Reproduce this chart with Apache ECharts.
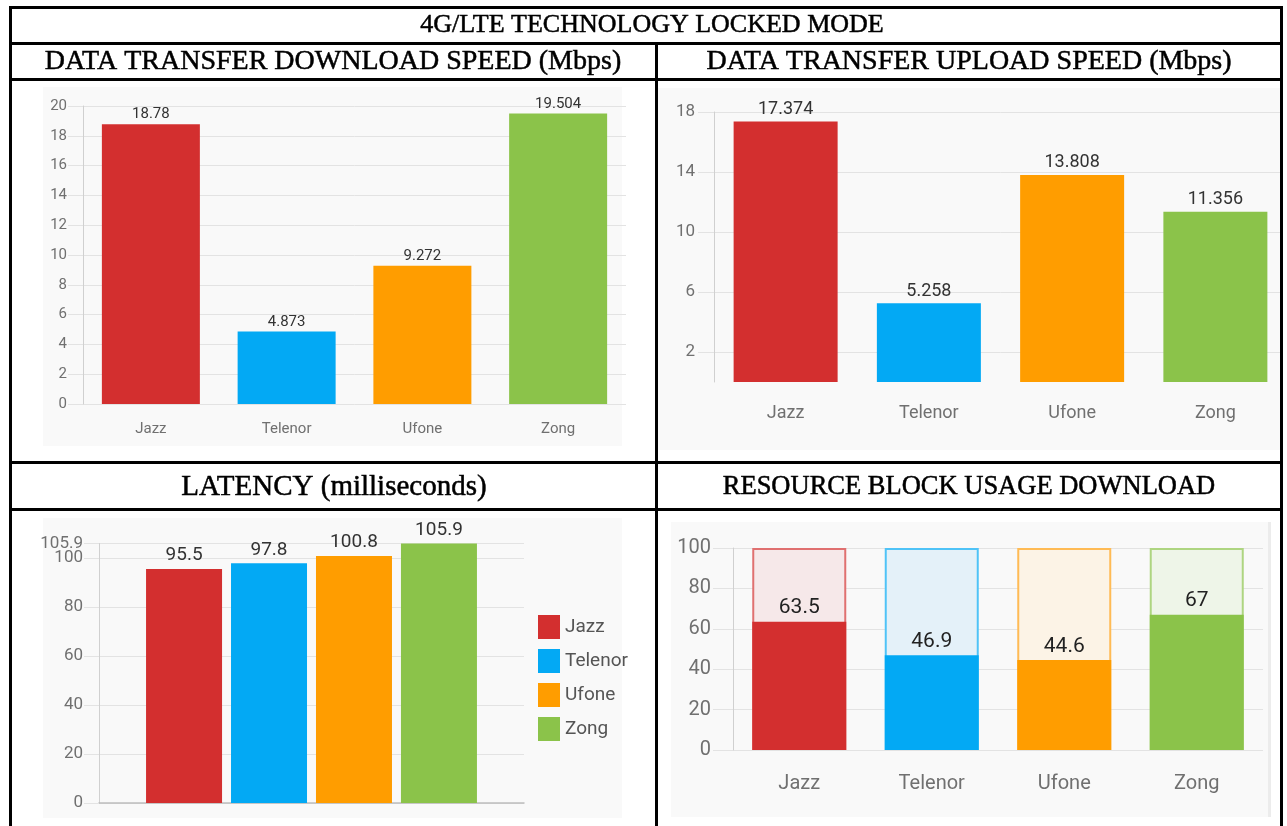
<!DOCTYPE html>
<html>
<head>
<meta charset="utf-8">
<script src="https://cdn.jsdelivr.net/npm/echarts@6/dist/echarts.min.js"></script>
<style>
html,body{margin:0;padding:0;background:#fff;}
#chart{width:1287px;height:826px;}
</style>
</head>
<body>
<div id="chart"></div>
<script>
// ---- data ----
const categories = ['Jazz', 'Telenor', 'Ufone', 'Zong'];
const downloadSpeed = [18.78, 4.873, 9.272, 19.504];
const uploadSpeed = [17.374, 5.258, 13.808, 11.356];
const latency = [95.5, 97.8, 100.8, 105.9];
const resourceBlock = [63.5, 46.9, 44.6, 67];
const resourceCapacity = [100, 100, 100, 100];
const uploadTicks = [2, 6, 10, 14, 18];
const latencyTicks = [0, 20, 40, 60, 80, 100];
const latencyMaxTick = [105.9];
const mainTitle = '4G/LTE TECHNOLOGY LOCKED MODE';
const panelTitles = ['DATA TRANSFER DOWNLOAD SPEED (Mbps)', 'DATA TRANSFER UPLOAD SPEED (Mbps)', 'LATENCY (milliseconds)', 'RESOURCE BLOCK USAGE DOWNLOAD'];

// ---- styles ----
const solid = ['#d32f2f', '#03a9f4', '#ff9d00', '#8bc34a'];
const lightFill = ['#f6e8e9', '#e4f1f9', '#fcf3e6', '#eef5e8'];
const lightBorder = ['#e07070', '#4fc3f7', '#ffbb55', '#aed581'];
const FONT = 'Roboto';
const GRID = '#e3e3e3';
const AXIS = '#d0d0d0';
const LABEL = '#707070';

const chart = echarts.init(document.getElementById('chart'), null, {renderer: 'canvas'});

function colored(values) {
  return values.map((v, i) => ({value: v, itemStyle: {color: solid[i]}}));
}

const rect = (x, y, w, h, fill, z) => ({type: 'rect', shape: {x, y, width: w, height: h}, style: {fill}, z, silent: true});
const text = (t, x, y, size) => ({type: 'text', z: 50, silent: true,
  style: {text: t, x, y, fill: '#000', stroke: '#000', lineWidth: 0.5, fontSize: size,
          fontFamily: '"Liberation Serif", "DejaVu Serif", serif', align: 'center', verticalAlign: 'middle'}});

const graphics = [
  // panel backgrounds
  rect(43, 87, 579, 359, '#f9f9f9', -10),
  rect(658, 88, 625, 362, '#f9f9f9', -10),
  rect(43, 518, 579, 300, '#f9f9f9', -10),
  rect(671, 522, 599, 295, '#f9f9f9', -10),
  rect(1268, 522, 3, 295, '#ececec', -9),
  // white strip right of border
  rect(1283, 0, 10, 826, '#ffffff', 99),
  // borders
  rect(9, 6, 1274, 3, '#000', 100),
  rect(9, 6, 3, 820, '#000', 100),
  rect(1280, 6, 3, 820, '#000', 100),
  rect(9, 42, 1274, 3, '#000', 100),
  rect(9, 78, 1274, 3, '#000', 100),
  rect(9, 461, 1274, 3, '#000', 100),
  rect(9, 508, 1274, 3, '#000', 100),
  rect(655, 42, 3, 784, '#000', 100),
  // titles
  text(mainTitle, 652, 25, 26),
  text(panelTitles[0], 333, 62, 28),
  text(panelTitles[1], 969, 62, 28),
  text(panelTitles[2], 334, 487, 29),
  text(panelTitles[3], 969, 487, 26.5)
];

const option = {
  animation: false,
  backgroundColor: '#ffffff',
  textStyle: {fontFamily: FONT},
  graphic: graphics,
  legend: {
    data: categories,
    orient: 'vertical',
    left: 533, top: 610,
    itemWidth: 22, itemHeight: 24, itemGap: 10,
    icon: 'rect',
    textStyle: {fontSize: 19, color: '#555', fontFamily: FONT},
    selectedMode: false
  },
  grid: [
    {left: 83, top: 106, width: 543, height: 298},
    {left: 714, top: 112, width: 579, height: 270},
    {left: 99, top: 543.5, width: 425, height: 259.5},
    {left: 733, top: 548, width: 530, height: 202}
  ],
  xAxis: [
    {gridIndex: 0, type: 'category', data: categories,
     axisLine: {show: false}, axisTick: {show: false},
     axisLabel: {color: LABEL, fontSize: 15, margin: 18}},
    {gridIndex: 1, type: 'category', data: categories,
     axisLine: {show: false}, axisTick: {show: false},
     axisLabel: {color: LABEL, fontSize: 18, margin: 22}},
    {gridIndex: 2, type: 'category', data: [''],
     axisLine: {show: true, lineStyle: {color: '#bdbdbd', width: 1.5}}, axisTick: {show: false},
     axisLabel: {show: false}},
    {gridIndex: 3, type: 'category', data: categories,
     axisLine: {show: false}, axisTick: {show: false},
     axisLabel: {color: LABEL, fontSize: 20, margin: 24}}
  ],
  yAxis: [
    {gridIndex: 0, type: 'value', min: 0, max: 20, interval: 2,
     axisLine: {show: true, lineStyle: {color: AXIS}},
     axisTick: {show: true, length: 15, lineStyle: {color: GRID}},
     axisLabel: {color: LABEL, fontSize: 15, margin: 16},
     splitLine: {lineStyle: {color: GRID}}},
    {gridIndex: 1, type: 'value', min: 0, max: 18, interval: 2,
     axisLine: {show: true, lineStyle: {color: AXIS}},
     axisTick: {show: true, length: 16, lineStyle: {color: GRID}, customValues: uploadTicks},
     axisLabel: {color: LABEL, fontSize: 17, margin: 19, customValues: uploadTicks},
     splitLine: {lineStyle: {color: GRID}}},
    {gridIndex: 2, type: 'value', min: 0, max: 105.9, interval: 20,
     axisLine: {show: true, lineStyle: {color: AXIS}},
     axisTick: {show: true, length: 15, lineStyle: {color: GRID}, customValues: latencyTicks},
     axisLabel: {color: LABEL, fontSize: 17, margin: 16, customValues: latencyTicks},
     splitLine: {lineStyle: {color: GRID}}},
    {gridIndex: 3, type: 'value', min: 0, max: 100, interval: 20,
     axisLine: {show: true, lineStyle: {color: AXIS}},
     axisTick: {show: true, length: 20, lineStyle: {color: GRID}},
     axisLabel: {color: LABEL, fontSize: 20, margin: 22},
     splitLine: {lineStyle: {color: GRID}}},
    {gridIndex: 2, type: 'value', min: 0, max: 105.9, position: 'left',
     axisLine: {show: false},
     axisTick: {show: true, length: 15, lineStyle: {color: GRID}, customValues: latencyMaxTick},
     axisLabel: {color: LABEL, fontSize: 17, margin: 16, customValues: latencyMaxTick, showMaxLabel: true,
                 padding: [0, 0, 6, 0]},
     splitLine: {show: true, lineStyle: {color: GRID}}}
  ],
  series: [
    {name: 'Download', type: 'bar', xAxisIndex: 0, yAxisIndex: 0, barWidth: 98,
     data: colored(downloadSpeed),
     label: {show: true, position: 'top', distance: 2, color: '#333', fontSize: 15}},
    {name: 'Upload', type: 'bar', xAxisIndex: 1, yAxisIndex: 1, barWidth: 104,
     data: colored(uploadSpeed),
     label: {show: true, position: 'top', distance: 3, color: '#333', fontSize: 18}},
    ...categories.map((c, i) => ({
      name: c, type: 'bar', xAxisIndex: 2, yAxisIndex: 2, barWidth: 76, barGap: '11.8%',
      itemStyle: {color: solid[i]},
      data: [latency[i]],
      label: {show: true, position: 'top', distance: 4, color: '#333', fontSize: 19}
    })),
    {name: 'Capacity', type: 'bar', xAxisIndex: 3, yAxisIndex: 3, barWidth: 94, barGap: '-100%',
     data: resourceCapacity.map((v, i) => ({value: v, itemStyle: {color: lightFill[i], borderColor: lightBorder[i], borderWidth: 2}}))},
    {name: 'Resource', type: 'bar', xAxisIndex: 3, yAxisIndex: 3, barWidth: 94, barGap: '-100%',
     data: colored(resourceBlock),
     label: {show: true, position: 'top', distance: 3, color: '#222', fontSize: 21}}
  ]
};

chart.setOption(option);
</script>
</body>
</html>
